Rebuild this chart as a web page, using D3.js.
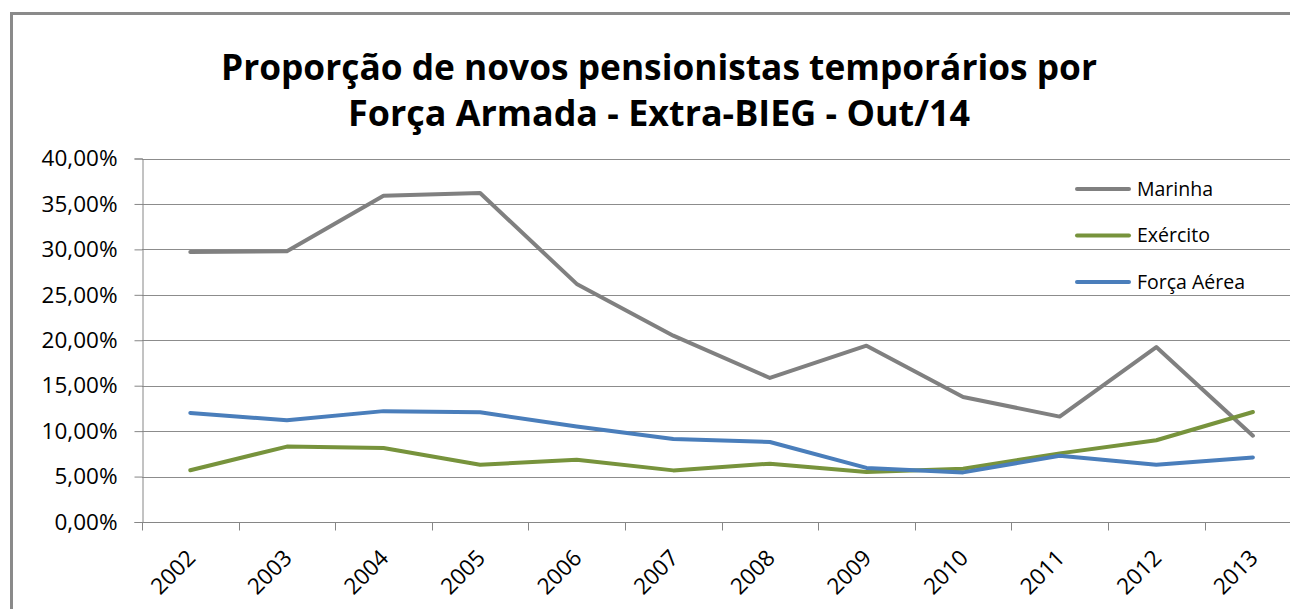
<!DOCTYPE html>
<html>
<head>
<meta charset="utf-8">
<script src="https://cdn.jsdelivr.net/npm/d3@7"></script>
<style>
  body{margin:0;background:#fff;}
  svg{display:block;font-family:"Open Sans",sans-serif;}
</style>
</head>
<body>
<svg></svg>
<script>
var years = ["2002","2003","2004","2005","2006","2007","2008","2009","2010","2011","2012","2013"];
var marinha = [0.297,0.298,0.359,0.362,0.262,0.205,0.1585,0.194,0.1376,0.116,0.1925,0.095];
var exercito = [0.057,0.083,0.0815,0.063,0.0686,0.0568,0.0642,0.055,0.0587,0.0755,0.090,0.121];
var forcaAerea = [0.120,0.112,0.122,0.1207,0.105,0.0914,0.088,0.0595,0.0546,0.073,0.063,0.071];
var seriesNames = ["Marinha","Exército","Força Aérea"];
var seriesColors = ["#808080","#77933c","#4a7ebb"];
var yTicks = [0,0.05,0.10,0.15,0.20,0.25,0.30,0.35,0.40];
var titleLines = ["Proporção de novos pensionistas temporários por","Força Armada - Extra-BIEG - Out/14"];

start();

function start(){
  var width = 1290;
  var height = 609;

  var svg = d3.select("svg")
              .attr("width",width)
              .attr("height",height);

  var ptBR = d3.formatLocale({decimal:",",thousands:".",grouping:[3],currency:["R$",""]});
  var pct = ptBR.format(".2%");

  var x = d3.scaleBand()
            .domain(years)
            .range([142,142+12*96.6]);

  var y = d3.scaleLinear()
            .domain([0,0.4])
            .range([522,158.5]);

  // chart border (cut off at right and bottom like the screenshot)
  svg.append("rect")
     .attr("x",11.5).attr("y",13.5)
     .attr("width",width+20).attr("height",height+20)
     .attr("fill","none")
     .attr("stroke","#8a8a8a")
     .attr("stroke-width",3);

  // title
  svg.selectAll("text.title")
     .data(titleLines)
     .enter()
     .append("text")
     .attr("class","title")
     .attr("x",659)
     .attr("y",function(d,i){return 80+i*46;})
     .attr("text-anchor","middle")
     .attr("font-weight","bold")
     .attr("font-size",35)
     .attr("textLength",function(d,i){return i==0?876:622;})
     .attr("lengthAdjust","spacingAndGlyphs")
     .attr("fill","#000")
     .text(function(d){return d;});

  // gridlines
  svg.append("g")
     .selectAll("line")
     .data(yTicks.slice(1))
     .enter()
     .append("line")
     .attr("x1",142).attr("x2",width)
     .attr("y1",function(d){return Math.round(y(d))+0.5;})
     .attr("y2",function(d){return Math.round(y(d))+0.5;})
     .attr("stroke","#8c8c8c")
     .attr("stroke-width",1);

  // y axis
  var yAxis = d3.axisLeft(y)
                .tickValues(yTicks)
                .tickFormat(pct)
                .tickSize(8)
                .tickPadding(17);
  var gy = svg.append("g")
              .attr("transform","translate(142.5,0)")
              .call(yAxis);
  gy.selectAll("path,line").attr("stroke","#868686");
  gy.selectAll("text")
    .attr("font-size",22.5)
    .attr("font-family","Open Sans, sans-serif")
    .attr("fill","#000");

  // x axis
  var xAxis = d3.axisBottom(x).tickSize(0).tickFormat("");
  var gx = svg.append("g")
              .attr("transform","translate(0,522.5)")
              .call(xAxis);
  gx.selectAll("path").attr("stroke","#868686").attr("d","M142,0H"+width);
  gx.selectAll("line.sep")
    .data(years)
    .enter()
    .append("line")
    .attr("x1",function(d){return Math.round(x(d))+0.5;})
    .attr("x2",function(d){return Math.round(x(d))+0.5;})
    .attr("y1",0).attr("y2",8)
    .attr("stroke","#868686");

  svg.append("g")
     .selectAll("text")
     .data(years)
     .enter()
     .append("text")
     .attr("transform",function(d){return "translate("+(x(d)+x.bandwidth()/2-5)+",548) rotate(-45)";})
     .attr("text-anchor","end")
     .attr("dy","0.72em")
     .attr("font-size",22.5)
     .attr("fill","#000")
     .text(function(d){return d;});

  // lines
  var line = d3.line()
               .x(function(d,i){return x(years[i])+x.bandwidth()/2;})
               .y(function(d){return y(d);});

  var allSeries = [marinha,exercito,forcaAerea];
  svg.append("g")
     .selectAll("path")
     .data(allSeries)
     .enter()
     .append("path")
     .attr("d",line)
     .attr("fill","none")
     .attr("stroke",function(d,i){return seriesColors[i];})
     .attr("stroke-width",4)
     .attr("stroke-linejoin","round")
     .attr("stroke-linecap","round");

  // legend
  var legend = svg.append("g")
                  .selectAll("g")
                  .data(seriesNames)
                  .enter()
                  .append("g")
                  .attr("transform",function(d,i){return "translate(1077,"+(189+i*46.5)+")";});
  legend.append("line")
        .attr("x1",0).attr("x2",52)
        .attr("y1",0).attr("y2",0)
        .attr("stroke",function(d,i){return seriesColors[i];})
        .attr("stroke-width",4)
        .attr("stroke-linecap","round");
  legend.append("text")
        .attr("x",60)
        .attr("dy","0.35em")
        .attr("font-size",19.5)
        .attr("fill","#000")
        .text(function(d){return d;});
}
</script>
</body>
</html>
